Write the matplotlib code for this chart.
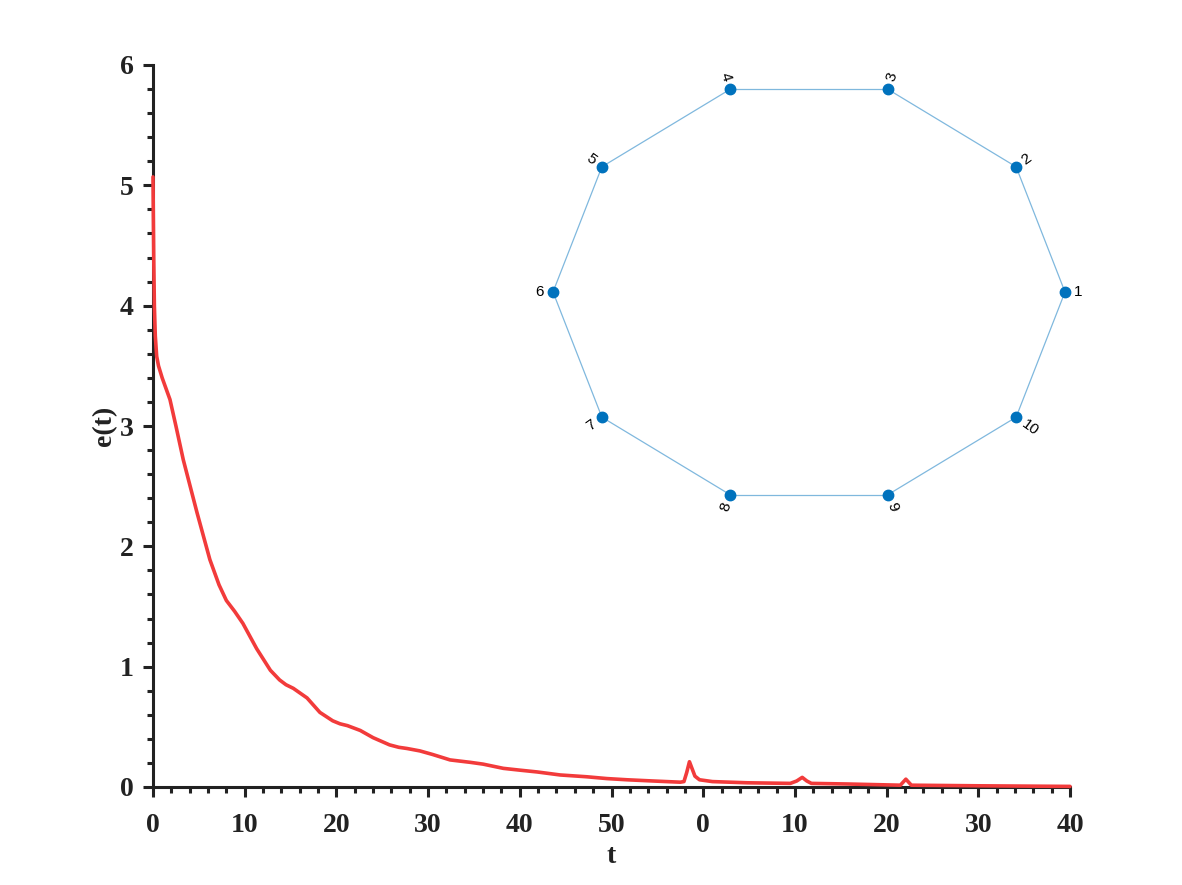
import numpy as np
import matplotlib
matplotlib.use("Agg")
import matplotlib.pyplot as plt
from matplotlib.ticker import MultipleLocator, FixedLocator
from matplotlib.transforms import offset_copy

# ---- data ----
t = [0, 0.03, 0.08, 0.15, 0.25, 0.4, 0.6, 1.0, 1.85, 2.5, 3.3, 4.8, 6.2, 7.2, 8.0, 8.9, 9.8,
     11.3, 12.8, 13.8, 14.5, 15.3, 16.8, 18.2, 19.6, 20.4, 21.2, 22.6, 24.0, 25.8, 26.8, 27.7,
     29.1, 30.5, 32.4, 33.5, 34.6, 36.0, 38.2, 40.0, 41.9, 44.4, 47.3, 49.5, 51.7,
     54.5, 57.5, 57.9, 58.2, 58.5, 58.8, 59.1, 59.6, 61.0, 64.8, 69.5, 70.2,
     70.8, 71.3, 71.8, 75.7, 81.5, 81.8, 82.1, 82.4, 82.7, 90.0, 100.0]
e = [5.07, 4.8, 4.4, 4.0, 3.75, 3.58, 3.5, 3.40, 3.22, 3.0, 2.72, 2.28, 1.89, 1.68, 1.55, 1.46, 1.36,
     1.15, 0.97, 0.89, 0.85, 0.82, 0.74, 0.62, 0.55, 0.525, 0.51, 0.47, 0.41, 0.35, 0.33, 0.32,
     0.30, 0.27, 0.225, 0.215, 0.205, 0.19, 0.155, 0.14, 0.125, 0.10, 0.085, 0.07, 0.06,
     0.05, 0.04, 0.045, 0.12, 0.21, 0.15, 0.09, 0.06, 0.045, 0.035, 0.03, 0.05,
     0.08, 0.05, 0.03, 0.025, 0.015, 0.04, 0.065, 0.04, 0.015, 0.01, 0.005]

xticks = [0, 10, 20, 30, 40, 50, 60, 70, 80, 90, 100]
xticklabels = ['0', '10', '20', '30', '40', '50', '0', '10', '20', '30', '40']
yticks = [0, 1, 2, 3, 4, 5, 6]

nodes = ['1', '2', '3', '4', '5', '6', '7', '8', '9', '10']
edges = [(0, 1), (1, 2), (2, 3), (3, 4), (4, 5), (5, 6), (6, 7), (7, 8), (8, 9), (9, 0)]

# ---- figure ----
fig = plt.figure(figsize=(11.82, 8.85), dpi=100)
ax = fig.add_axes([153/1182, 1-787/885, (1070-153)/1182, (787-65)/885])

ax.plot(t, e, color='#F23B3B', lw=2.6, solid_joinstyle='round', solid_capstyle='round',
        clip_on=False, zorder=5)
ax.set_xlim(0, 100)
ax.set_ylim(0, 6)

for s in ['top', 'right']:
    ax.spines[s].set_visible(False)
for s in ['left', 'bottom']:
    ax.spines[s].set_linewidth(2.2)
    ax.spines[s].set_color('#222222')
    ax.spines[s].set_zorder(3)

ax.xaxis.set_major_locator(FixedLocator(xticks))
ax.set_xticklabels(xticklabels)
ax.xaxis.set_minor_locator(MultipleLocator(2))
ax.yaxis.set_major_locator(FixedLocator(yticks))
ax.yaxis.set_minor_locator(MultipleLocator(0.2))
ax.tick_params(which='major', direction='out', length=7, width=2.2, color='#222222')
ax.tick_params(which='minor', direction='out', length=4, width=2.2, color='#222222')
ax.tick_params(axis='x', which='major', pad=12)
ax.tick_params(axis='y', which='major', pad=7)

tfont = dict(family='Liberation Serif', weight='bold', size=20, color='#222222')
for lab in ax.get_xticklabels() + ax.get_yticklabels():
    lab.set_fontfamily('Liberation Serif')
    lab.set_fontweight('bold')
    lab.set_fontsize(20)
    lab.set_color('#222222')
ax.set_xlabel('t', fontdict=tfont, labelpad=4)
ax.set_ylabel('e(t)', fontdict=tfont, labelpad=2)

# ---- inset ring graph ----
cx, cy, rx, ry = 809, 292, 256, 213
pad = 1.1
iax = fig.add_axes([(cx - rx*pad)/1182, 1-(cy + ry*pad)/885, 2*rx*pad/1182, 2*ry*pad/885])
iax.set_xlim(-pad, pad)
iax.set_ylim(-pad, pad)
iax.axis('off')
iax.patch.set_alpha(0)

n = len(nodes)
ang = np.array([2*np.pi*k/n for k in range(n)])
px = np.cos(ang)
py = np.sin(ang)
for a, b in edges:
    iax.plot([px[a], px[b]], [py[a], py[b]], color='#0072BD', alpha=0.5, lw=0.9, zorder=1)
iax.plot(px, py, 'o', color='#0072BD', ms=7.5, zorder=2, linestyle='none')

for k in range(n):
    th = ang[k]
    deg = np.degrees(th)
    d = 9
    tr = offset_copy(iax.transData, fig=fig, x=d*np.cos(th), y=d*np.sin(th), units='dots')
    if np.cos(th) >= -1e-9:
        rot, ha = deg, 'left'
        if rot > 180:
            rot -= 360
    else:
        rot, ha = deg - 180, 'right'
    iax.text(px[k], py[k], nodes[k], transform=tr, rotation=rot, rotation_mode='anchor',
             ha=ha, va='center', fontsize=11, family='Liberation Sans', color='black')

fig.savefig('out.png', dpi=100)
